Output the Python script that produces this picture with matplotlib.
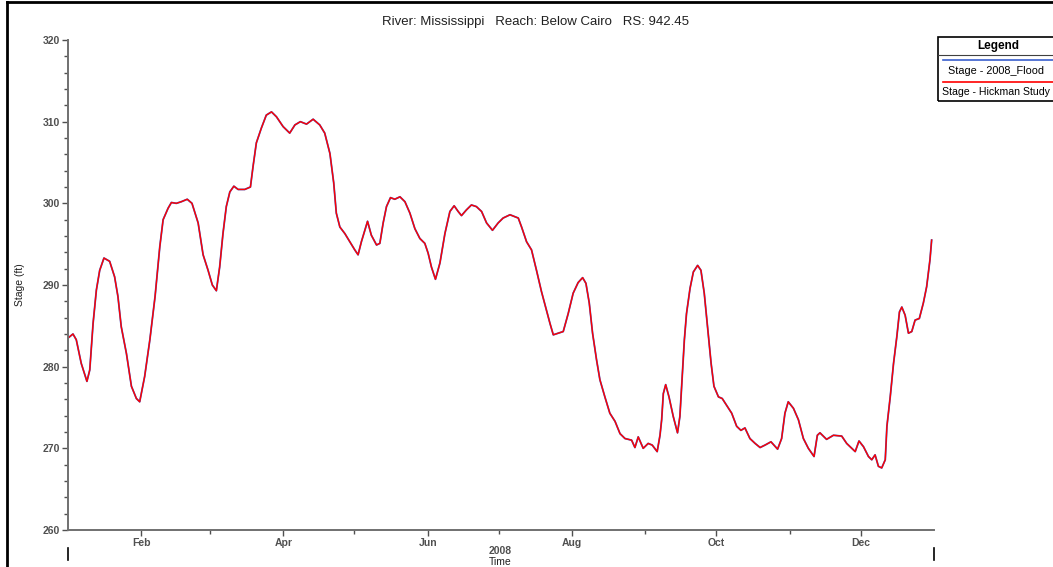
import numpy as np
import matplotlib
matplotlib.use("Agg")
import matplotlib.pyplot as plt
import matplotlib.dates as mdates
from matplotlib.lines import Line2D
from matplotlib.patches import Rectangle

plt.rcParams["font.family"] = ["Liberation Sans", "DejaVu Sans"]

# days after 2008-01-01
days = [0, 2.1, 3.5, 5.6, 8.0, 9.2, 10.6, 12.0, 13.4, 15.2, 17.6, 19.7, 21.1, 22.5,
        24.7, 26.8, 28.9, 30.3, 32.4, 34.6, 36.8, 38.8, 40.2, 42.3, 43.7, 45.8,
        47.9, 50.4, 52.4, 55.0, 57.1, 59.2, 61.0,
        62.7, 64.1, 65.5, 66.9, 68.4, 70.1, 71.9, 74.7, 77.1, 78.2, 79.6, 81.7,
        83.8, 86.0, 88.1, 90.9, 93.7, 95.9, 98.2, 100.8, 103.6, 106.4, 108.5,
        110.7, 112.3, 113.4, 114.9, 117.0, 119.1, 121.2, 122.6,
        124.0, 126.6, 128.2, 130.4, 131.8, 133.2, 134.6, 136.3, 138.1, 140.3,
        142.4, 144.5, 146.6, 148.7, 150.8, 152.2, 153.6, 155.3, 157.2, 159.3,
        161.4, 163.2, 164.9, 166.3, 168.4, 170.5, 172.6, 174.8, 176.9, 179.4,
        181.8, 183.9,
        186.8, 190.3, 191.7, 193.8, 195.9, 198.0, 200.1, 202.2, 203.7, 205.1,
        207.2, 209.3, 211.4, 213.5, 215.6, 217.5, 218.9, 220.3, 221.7, 223.4,
        224.8, 226.9, 229.0, 231.2, 233.3, 235.4, 238.2, 239.6, 241.0, 243.1,
        245.2,
        246.9, 249.0, 250.2, 250.9, 251.6, 252.6, 254.0, 255.8, 257.6, 258.6,
        259.6, 260.5, 261.4, 262.9, 264.3, 266.1, 267.5, 268.9, 270.3, 271.8,
        273.0, 274.9, 276.5, 278.3, 280.5, 282.6, 284.4, 286.1, 288.2, 290.4,
        292.5, 294.6, 297.1, 299.9, 301.6, 303.0, 304.4, 306.6,
        308.7, 310.8, 312.9, 315.3, 316.7, 317.8, 320.6, 323.5, 327.0, 329.1,
        332.7, 334.3, 336.2, 338.3, 339.7, 341.1, 342.5, 343.9, 345.4, 346.1,
        347.5, 348.9, 350.3, 351.4, 352.4, 353.8, 355.2, 356.6, 358.0, 359.8,
        361.5, 362.9, 364.3, 365.0]

hickman_stage = [283.5, 284.0, 283.3, 280.4, 278.2, 279.6, 285.3, 289.4, 291.8, 293.3,
                 292.9, 291.0, 288.6, 284.9, 281.6, 277.6, 276.1, 275.7, 278.8, 283.3,
                 288.6, 294.7, 298.0, 299.4, 300.1, 300.0, 300.2, 300.5, 300.0, 297.6,
                 293.7, 291.8, 290.0,
                 289.3, 292.2, 296.3, 299.6, 301.4, 302.1, 301.7, 301.7, 302.0, 304.5,
                 307.4, 309.2, 310.8, 311.2, 310.6, 309.4, 308.6, 309.6, 310.0, 309.7,
                 310.3, 309.6, 308.6, 306.1, 302.5, 298.8, 297.1, 296.3, 295.3, 294.3,
                 293.7,
                 295.3, 297.8, 296.1, 294.9, 295.1, 297.6, 299.6, 300.7, 300.5, 300.8,
                 300.2, 298.8, 296.9, 295.7, 295.1, 293.9, 292.2, 290.7, 292.7, 296.3,
                 299.0, 299.7, 299.0, 298.5, 299.2, 299.8, 299.6, 299.0, 297.6, 296.7,
                 297.6, 298.2,
                 298.6, 298.2, 297.1, 295.3, 294.3, 291.8, 289.2, 286.9, 285.3, 283.9,
                 284.1, 284.3, 286.5, 289.0, 290.3, 290.9, 290.2, 287.8, 284.1, 280.8,
                 278.4, 276.3, 274.3, 273.3, 271.8, 271.2, 271.0, 270.1, 271.4, 270.0,
                 270.6,
                 270.4, 269.6, 271.6, 273.5, 276.7, 277.8, 276.3, 273.9, 271.9, 273.9,
                 278.8, 283.3, 286.5, 289.6, 291.6, 292.4, 291.8, 289.0, 284.9, 280.4,
                 277.6, 276.3, 276.1, 275.3, 274.3, 272.7, 272.2, 272.5, 271.2, 270.6,
                 270.1, 270.4, 270.8, 269.9, 271.2, 274.3, 275.7, 274.9,
                 273.5, 271.2, 270.0, 269.0, 271.6, 271.9, 271.1, 271.6, 271.5, 270.6,
                 269.6, 270.9, 270.2, 269.0, 268.6, 269.2, 267.8, 267.6, 268.6, 272.7,
                 276.3, 280.4, 283.7, 286.7, 287.3, 286.3, 284.1, 284.3, 285.7, 285.9,
                 287.8, 289.8, 293.1, 295.5]

# the 2008_Flood run sits on top of the Hickman run everywhere in the picture
flood_stage = list(hickman_stage)

series_names = ["Stage - 2008_Flood", "Stage - Hickman Study"]
title = "River: Mississippi   Reach: Below Cairo   RS: 942.45"

start = np.datetime64("2008-01-01T00:00")
times = start + (np.array(days) * 24 * 60).astype("timedelta64[m]")

W, H = 1053, 567
fig = plt.figure(figsize=(W / 100, H / 100), dpi=100)
ax = fig.add_axes([68 / W, 1 - 530 / H, 866 / W, 490 / H])

ax.plot(times, flood_stage, color="#3a5fcd", lw=1.3)
ax.plot(times, hickman_stage, color="#ff0000", lw=1.0)

ax.set_xlim(np.datetime64("2008-01-01"), np.datetime64("2009-01-01"))
ax.set_ylim(260, 320)
ax.set_yticks(np.arange(260, 321, 10))
ax.set_yticks(np.arange(260, 321, 2), minor=True)
ax.xaxis.set_major_locator(mdates.MonthLocator(bymonth=[2, 4, 6, 8, 10, 12]))
ax.xaxis.set_minor_locator(mdates.MonthLocator(bymonth=[3, 5, 7, 9, 11]))
ax.xaxis.set_major_formatter(mdates.DateFormatter("%b"))

for s in ["top", "right"]:
    ax.spines[s].set_visible(False)
for s in ["left", "bottom"]:
    ax.spines[s].set_color("#707070")
    ax.spines[s].set_linewidth(1.4)

ax.tick_params(axis="both", which="major", length=4, width=1, color="#505050",
               labelsize=7.5, labelcolor="#505050", pad=2)
ax.tick_params(axis="both", which="minor", length=3, width=1, color="#505050")
for lab in ax.get_xticklabels() + ax.get_yticklabels():
    lab.set_fontweight("bold")

# year marks below the axis
trans = ax.get_xaxis_transform()
for d in [np.datetime64("2008-01-01"), np.datetime64("2009-01-01")]:
    ax.add_line(Line2D([mdates.date2num(d)] * 2, [-0.037, -0.061], color="black",
                       lw=1.2, transform=trans, clip_on=False))
fig.text(500 / W, 1 - 551 / H, "2008", ha="center", va="center", fontsize=7.5,
         fontweight="bold", color="#505050")
fig.text(500 / W, 1 - 562 / H, "Time", ha="center", va="center", fontsize=7.5,
         color="#202020")

fig.text(536 / W, 1 - 22 / H, title, ha="center", va="center", fontsize=9.5,
         color="#202020")
fig.text(20 / W, 1 - 285 / H, "Stage (ft)", rotation=90, ha="center", va="center",
         fontsize=7.5, color="#202020")

# window border
fig.add_artist(Line2D([7 / W, 7 / W], [0, 1 - 2 / H], color="black", lw=2))
fig.add_artist(Line2D([7 / W, 1], [1 - 2 / H, 1 - 2 / H], color="black", lw=2))

# legend box, running off the right edge like the screenshot
fig.add_artist(Rectangle((938 / W, 1 - 101 / H), 130 / W, 64 / H, fill=False,
                         edgecolor="black", lw=1.2, transform=fig.transFigure))
fig.text(998 / W, 1 - 46 / H, "Legend", ha="center", va="center", fontsize=8.5,
         fontweight="bold")
fig.add_artist(Line2D([938 / W, 1], [1 - 55 / H] * 2, color="#404040", lw=0.8))
fig.add_artist(Line2D([943 / W, 1], [1 - 60 / H] * 2, color="#3a5fcd", lw=1.2))
fig.text(996 / W, 1 - 71 / H, series_names[0], ha="center", va="center", fontsize=7.8)
fig.add_artist(Line2D([943 / W, 1], [1 - 82 / H] * 2, color="#ff0000", lw=1.2))
fig.text(942 / W, 1 - 92 / H, series_names[1], ha="left", va="center", fontsize=7.6)

fig.savefig("out.png", dpi=100)
